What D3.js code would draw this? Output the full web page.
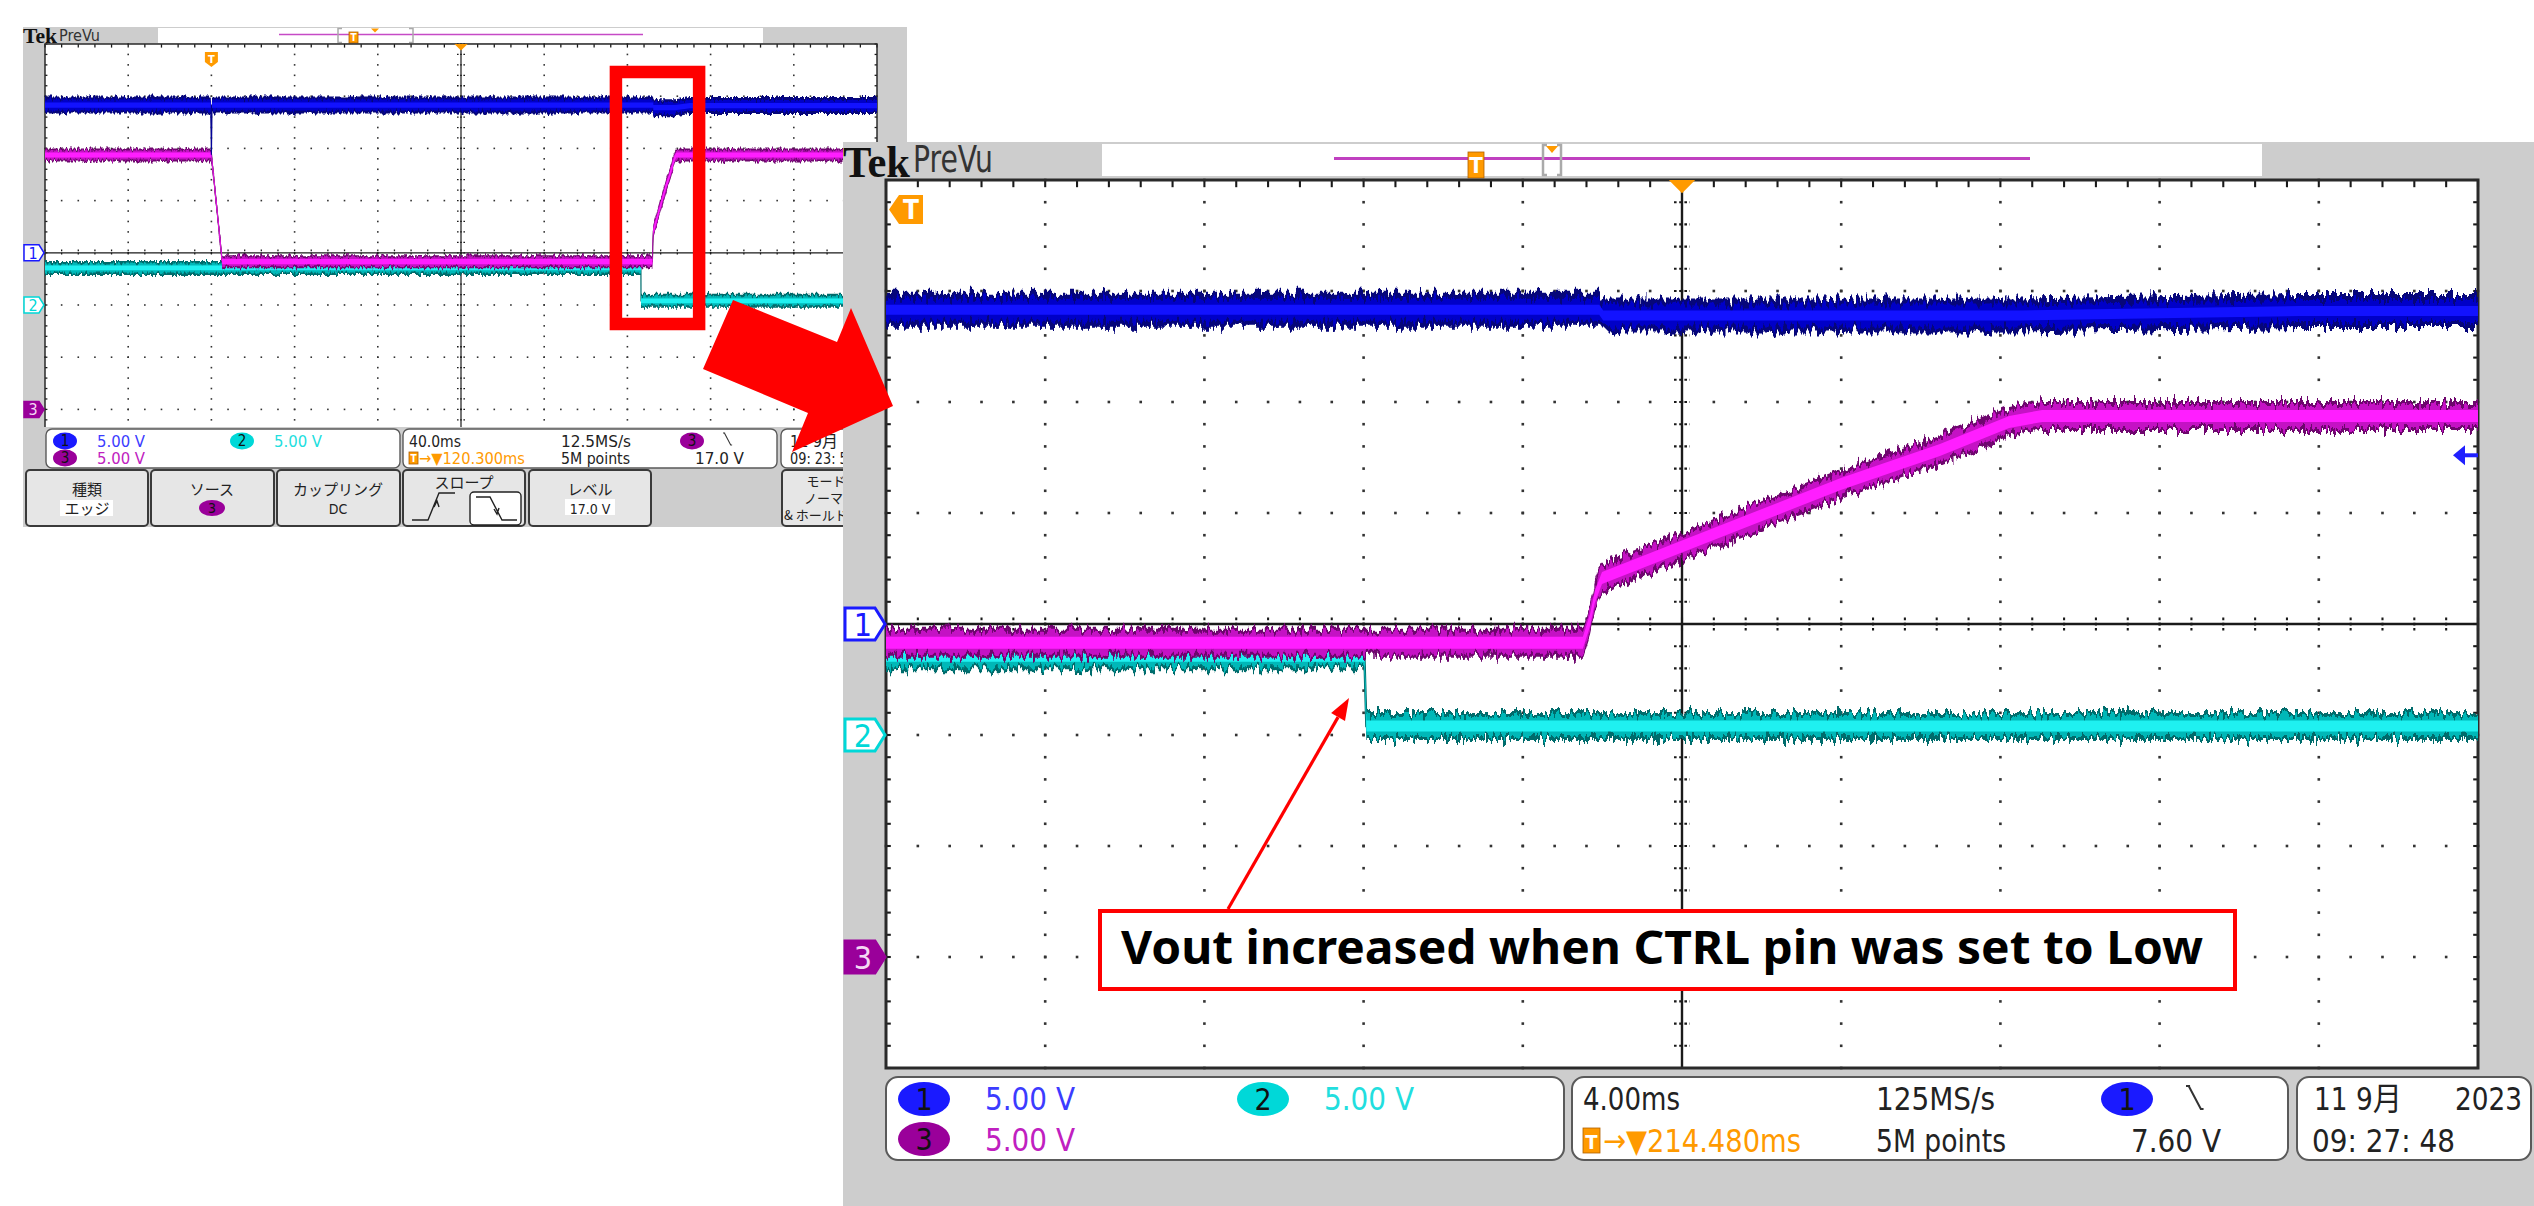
<!DOCTYPE html>
<html>
<head>
<meta charset="utf-8">
<title>Vout increased when CTRL pin was set to Low</title>
<script src="https://cdn.jsdelivr.net/npm/d3@7"></script>
<style>
  html, body { margin: 0; padding: 0; background: #fff; overflow: hidden; }
  svg { display: block; }
</style>
</head>
<body>
<div id="chart"></div>
<script>
// ---- data: time in ms from the trigger, volts ----
var ch1Points = [[-80, 14.15], [-0.3, 14.15], [0, 9.4], [0.3, 14.15], [212.4, 14.15], [212.5, 13.9], [223.0, 13.9], [230.0, 14.1], [320, 14.1]];
var ch2Points = [[-80, 3.55], [206.5, 3.55], [206.55, 0.4], [320, 0.4]];
var ch3Points = [[-80, 24.37], [0, 24.37], [5.2, 14.15], [211.99, 14.15], [212.17, 15.18], [212.29, 16.22], [212.47, 17.07],
                 [214.51, 18.51], [218.47, 21.31], [220.96, 22.84], [222.70, 24.10], [223.53, 24.37], [320, 24.37]];
var channelGround = [4, 5, 7];      // ground marker, divisions from the top
var voltsPerDiv = [5, 5, 5];
var wideWindow = [-80, 320];        // 40.0 ms/div
var zoomWindow = [194.48, 234.48];  // 4.00 ms/div
var triggerLevel = 7.60;            // ch1, zoomed capture

var voltLabels = ['5.00 V', '5.00 V', '5.00 V'];
var wideTiming = ['40.0ms', '→▼120.300ms', '12.5MS/s', '5M points', '17.0 V'];
var zoomTiming = ['4.00ms', '→▼214.480ms', '125MS/s', '5M points', '7.60 V'];
var wideDate = ['11 9月', '09: 23: 51'];
var zoomDate = ['11 9月', '2023', '09: 27: 48'];
var menuTitles = ['種類', 'ソース', 'カップリング', 'スロープ', 'レベル', 'モード'];
var menuValues = ['エッジ', '3', 'DC', '', '17.0 V', 'ノーマル'];
var note = 'Vout increased when CTRL pin was set to Low';

// ---- look ----
var W = 2534, H = 1206;
var NARROW = "'Liberation Sans Narrow', 'DejaVu Sans Condensed', 'Noto Sans CJK JP', sans-serif";
var JP = "'Noto Sans CJK JP', sans-serif";
var ORANGE = '#ff9a00', GRAY = '#cdcdcd';
var traceColors = [
    { dark: '#06067a', mid: '#0000c8', bright: '#1212ff', text: '#3c3cff', marker: '#1a1aff' },
    { dark: '#006c6c', mid: '#00b8b8', bright: '#1ff0f0', text: '#22dede', marker: '#00d8d8' },
    { dark: '#6e066e', mid: '#c412c4', bright: '#ff1eff', text: '#c020c0', marker: '#9a009a' }
];

d3.selection.prototype.attrs = function( o ){
    for ( var k in o ) this.attr( k, o[ k ] );
    return this;
};

var svg = d3.select( '#chart' ).append( 'svg' ).attrs( { width: W, height: H } );
var defs = svg.append( 'defs' );
svg.append( 'rect' ).attrs( { width: W, height: H, fill: '#fff' } );

function noiseFilter( id, freq, scale ){
    var f = defs.append( 'filter' ).attrs( {
        id: id, filterUnits: 'userSpaceOnUse', x: 0, y: 0, width: W, height: H,
        'color-interpolation-filters': 'sRGB'
    } );
    f.append( 'feTurbulence' ).attrs( { type: 'fractalNoise', baseFrequency: freq, numOctaves: 2, seed: 7, result: 'n' } );
    f.append( 'feColorMatrix' ).attrs( { in: 'n', type: 'matrix',
        values: '0 0 0 0 0.5  0 1 0 0 0  0 0 1 0 0  0 0 0 0 1', result: 'm' } );
    f.append( 'feDisplacementMap' ).attrs( { in: 'SourceGraphic', in2: 'm', scale: scale,
        xChannelSelector: 'R', yChannelSelector: 'G' } );
}
noiseFilter( 'noiseBig', '0.3 0.05', 20 );
noiseFilter( 'noiseSmall', '0.5 0.1', 8 );

function label( g, str, x, y, o ){
    var t = g.append( 'text' ).attrs( {
        x: x, y: y,
        'font-family': o.family || NARROW,
        'font-size': o.size,
        fill: o.fill || '#222'
    } ).text( str );
    if ( o.w ) t.attrs( { textLength: o.w, lengthAdjust: 'spacingAndGlyphs' } );
    if ( o.anchor ) t.attr( 'text-anchor', o.anchor );
    if ( o.weight ) t.attr( 'font-weight', o.weight );
    return t;
}

// ---- one scope screen ----
function drawScope( g, s ){
    var gx = d3.scaleLinear().domain( [ 0, 10 ] ).range( [ s.left, s.left + 10 * s.dw ] );
    var gy = d3.scaleLinear().domain( [ 0, 8 ] ).range( [ s.top, s.top + 8 * s.dh ] );
    var x = d3.scaleLinear().domain( s.window ).range( gx.range() );
    var ys = channelGround.map( function( gnd, i ){
        return d3.scaleLinear().domain( [ 0, voltsPerDiv[ i ] ] ).range( [ gy( gnd ), gy( gnd - 1 ) ] );
    } );

    // graticule
    g.append( 'rect' ).attrs( { x: gx( 0 ), y: gy( 0 ), width: gx( 10 ) - gx( 0 ), height: gy( 8 ) - gy( 0 ), fill: '#fff' } );
    var grid = g.append( 'g' ).attr( 'fill', '#333' );
    var d = s.dot;
    d3.range( 1, 10 ).filter( i => i !== 5 ).forEach( function( i ){
        d3.range( 0, 41 ).forEach( function( k ){
            grid.append( 'rect' ).attrs( { x: gx( i ) - d / 2, y: gy( k / 5 ) - d / 2, width: d, height: d } );
        } );
    } );
    d3.range( 1, 8 ).filter( j => j !== 4 ).forEach( function( j ){
        d3.range( 0, 51 ).forEach( function( k ){
            grid.append( 'rect' ).attrs( { x: gx( k / 5 ) - d / 2, y: gy( j ) - d / 2, width: d, height: d } );
        } );
    } );
    var lines = g.append( 'g' ).attrs( { stroke: '#1a1a1a', fill: 'none' } );
    lines.append( 'line' ).attrs( { x1: gx( 5 ), x2: gx( 5 ), y1: gy( 0 ), y2: gy( 8 ), 'stroke-width': s.axisW } );
    lines.append( 'line' ).attrs( { x1: gx( 0 ), x2: gx( 10 ), y1: gy( 4 ), y2: gy( 4 ), 'stroke-width': s.axisW } );
    d3.range( 0, 41 ).forEach( function( k ){
        lines.append( 'line' ).attrs( { x1: gx( 5 ) - s.tick, x2: gx( 5 ) + s.tick, y1: gy( k / 5 ), y2: gy( k / 5 ),
            'stroke-width': d * 0.8, 'stroke-dasharray': d + ',' + d } );
        lines.append( 'line' ).attrs( { x1: gx( 0 ), x2: gx( 0 ) + s.tick * 0.6, y1: gy( k / 5 ), y2: gy( k / 5 ), 'stroke-width': d * 0.8 } );
        lines.append( 'line' ).attrs( { x1: gx( 10 ), x2: gx( 10 ) - s.tick * 0.6, y1: gy( k / 5 ), y2: gy( k / 5 ), 'stroke-width': d * 0.8 } );
    } );
    d3.range( 0, 51 ).forEach( function( k ){
        lines.append( 'line' ).attrs( { x1: gx( k / 5 ), x2: gx( k / 5 ), y1: gy( 4 ) - s.tick * 0.8, y2: gy( 4 ) + s.tick * 0.8,
            'stroke-width': d * 0.8, 'stroke-dasharray': d + ',' + d } );
        lines.append( 'line' ).attrs( { x1: gx( k / 5 ), x2: gx( k / 5 ), y1: gy( 0 ), y2: gy( 0 ) + s.tick * 0.9, 'stroke-width': d * 0.8 } );
    } );
    g.append( 'rect' ).attrs( { x: gx( 0 ), y: gy( 0 ), width: gx( 10 ) - gx( 0 ), height: gy( 8 ) - gy( 0 ),
        fill: 'none', stroke: '#2a2a2a', 'stroke-width': s.borderW } );

    // traces: thin line underneath (shows the fast edges), noisy band on top
    defs.append( 'clipPath' ).attr( 'id', s.clip ).append( 'rect' ).attrs( {
        x: gx( 0 ), y: gy( 0 ), width: gx( 10 ) - gx( 0 ), height: s.visibleBottom - gy( 0 ) } );
    var traces = g.append( 'g' ).attr( 'clip-path', 'url(#' + s.clip + ')' );
    var data = [ ch1Points, ch2Points, ch3Points ];
    [ 1, 2, 0 ].forEach( function( ci ){
        var y = ys[ ci ], c = traceColors[ ci ];
        function band( h ){
            return d3.area().x( p => x( p[ 0 ] ) ).y0( p => y( p[ 1 ] ) + h ).y1( p => y( p[ 1 ] ) - h )( data[ ci ] );
        }
        traces.append( 'path' ).attrs( {
            d: d3.line().x( p => x( p[ 0 ] ) ).y( p => y( p[ 1 ] ) )( data[ ci ] ),
            fill: 'none', stroke: c.dark, 'stroke-width': s.borderW * 0.8
        } );
        traces.append( 'path' ).attrs( { d: band( s.outer[ ci ] ), fill: c.dark, filter: 'url(#' + s.noise + ')' } );
        traces.append( 'path' ).attrs( { d: band( s.mid[ ci ] ), fill: c.mid, filter: 'url(#' + s.noise + ')' } );
        traces.append( 'path' ).attrs( { d: band( s.inner[ ci ] ), fill: c.bright } );
    } );

    // channel ground markers
    channelGround.forEach( function( gnd, i ){
        var r = gx( 0 ) - 1, cy = ys[ i ]( 0 ), w = s.mark[ 0 ], h = s.mark[ 1 ];
        var filled = i === 2;
        g.append( 'path' ).attrs( {
            d: 'M' + ( r - w ) + ',' + ( cy - h / 2 ) + 'H' + ( r - w * 0.25 ) + 'L' + r + ',' + cy +
               'L' + ( r - w * 0.25 ) + ',' + ( cy + h / 2 ) + 'H' + ( r - w ) + 'Z',
            fill: filled ? traceColors[ i ].marker : '#fff',
            stroke: traceColors[ i ].marker, 'stroke-width': s.borderW
        } );
        label( g, String( i + 1 ), r - w * 0.55, cy + h * 0.36, {
            size: h * 1.0, anchor: 'middle', fill: filled ? '#f4d8f4' : traceColors[ i ].marker } );
    } );

    // centre (delay) marker
    var cw = s.mark[ 0 ] * 0.33;
    g.append( 'path' ).attrs( {
        d: 'M' + ( gx( 5 ) - cw ) + ',' + gy( 0 ) + 'H' + ( gx( 5 ) + cw ) + 'L' + gx( 5 ) + ',' + ( gy( 0 ) + cw ) + 'Z',
        fill: ORANGE } );

    return { x: x, ys: ys, gx: gx, gy: gy };
}

function readoutBox( g, x0, y0, x1, y1, r ){
    g.append( 'rect' ).attrs( { x: x0, y: y0, width: x1 - x0, height: y1 - y0, rx: r, ry: r,
        fill: '#fff', stroke: '#5a5a5a', 'stroke-width': r > 8 ? 2 : 1.4 } );
}

function chanBadge( g, cx, cy, rx, ry, i, size ){
    g.append( 'ellipse' ).attrs( { cx: cx, cy: cy, rx: rx, ry: ry, fill: traceColors[ i ].marker } );
    label( g, String( i + 1 ), cx, cy + size * 0.36, { size: size, anchor: 'middle', fill: '#111' } );
}

function triggerIcon( g, x, y, w, h, size ){
    g.append( 'rect' ).attrs( { x: x, y: y, width: w, height: h, fill: ORANGE, stroke: '#b06000', 'stroke-width': 0.8 } );
    label( g, 'T', x + w / 2, y + h * 0.82, { size: size, anchor: 'middle', fill: '#fff', weight: 'bold' } );
}

function slopeGlyph( g, x, y, s ){
    g.append( 'path' ).attrs( {
        d: 'M' + x + ',' + y + 'h' + ( 3 * s ) + 'M' + ( x + 2 * s ) + ',' + y + 'l' + ( 9 * s ) + ',' + ( 17 * s ) + 'h' + ( 2 * s ),
        fill: 'none', stroke: '#333', 'stroke-width': s * 1.5 } );
}

// =============== wide capture (top left) ===============
var small = svg.append( 'g' );
small.append( 'rect' ).attrs( { x: 23, y: 27, width: 884, height: 500, fill: GRAY } );
label( small, 'Tek', 23, 43, { size: 21, family: "'Liberation Serif', serif", weight: 'bold', w: 34, fill: '#111' } );
label( small, 'PreVu', 59, 41, { size: 16, w: 41, fill: '#333' } );
small.append( 'rect' ).attrs( { x: 158, y: 28, width: 605, height: 15, fill: '#fff' } );
small.append( 'line' ).attrs( { x1: 279, x2: 643, y1: 34.5, y2: 34.5, stroke: '#c64ac6', 'stroke-width': 1.6 } );
small.append( 'path' ).attrs( { d: 'M342,28.5h-4v14h4M409,28.5h4v14h-4', fill: 'none', stroke: '#aaa', 'stroke-width': 1.5 } );
triggerIcon( small, 349, 32, 9, 11, 10 );
small.append( 'path' ).attrs( { d: 'M371,28.5h8l-4,4z', fill: ORANGE } );

var smallScope = {
    left: 45, top: 44, dw: 83.2, dh: 52.2, visibleBottom: 429, window: wideWindow,
    dot: 1.6, tick: 4, axisW: 1.2, borderW: 1.5, mark: [ 20, 16 ],
    outer: [ 8.5, 7, 6.5 ], mid: [ 5.5, 4.5, 4.5 ], inner: [ 2.6, 2.4, 2.6 ],
    noise: 'noiseSmall', clip: 'clipSmall'
};
var sm = drawScope( small, smallScope );

// trigger position marker (pointing down)
var tx = sm.x( 0 );
small.append( 'path' ).attrs( { d: 'M' + ( tx - 6.5 ) + ',52h13v10l-6.5,5l-6.5,-5z', fill: ORANGE } );
label( small, 'T', tx, 63, { size: 11, anchor: 'middle', fill: '#fff', weight: 'bold' } );

// readout strip
small.append( 'rect' ).attrs( { x: 23, y: 427, width: 884, height: 100, fill: GRAY } );
readoutBox( small, 46, 429, 400, 468, 6 );
readoutBox( small, 403, 429, 777, 468, 6 );
readoutBox( small, 781, 429, 930, 468, 6 );
chanBadge( small, 65, 441, 12, 8.5, 0, 15 );
chanBadge( small, 242, 441, 12, 8.5, 1, 15 );
chanBadge( small, 65, 458, 12, 8.5, 2, 15 );
label( small, voltLabels[ 0 ], 97, 447, { size: 16, w: 48, fill: traceColors[ 0 ].text } );
label( small, voltLabels[ 1 ], 274, 447, { size: 16, w: 48, fill: traceColors[ 1 ].text } );
label( small, voltLabels[ 2 ], 97, 464, { size: 16, w: 48, fill: traceColors[ 2 ].text } );
label( small, wideTiming[ 0 ], 409, 447, { size: 16, w: 52 } );
triggerIcon( small, 409, 452, 9, 12, 10 );
label( small, wideTiming[ 1 ], 419, 464, { size: 16, w: 106, fill: ORANGE } );
label( small, wideTiming[ 2 ], 561, 447, { size: 16, w: 70 } );
label( small, wideTiming[ 3 ], 561, 464, { size: 16, w: 69 } );
chanBadge( small, 692, 441, 12, 8.5, 2, 15 );
slopeGlyph( small, 723, 433, 0.7 );
label( small, wideTiming[ 4 ], 695, 464, { size: 16, w: 49 } );
label( small, wideDate[ 0 ], 790, 447, { size: 16, w: 48 } );
label( small, wideDate[ 1 ], 790, 464, { size: 16, w: 66 } );

// menu buttons
var buttonX = [ [ 26, 148 ], [ 151, 274 ], [ 277, 400 ], [ 403, 525 ], [ 529, 651 ], [ 782, 930 ] ];
buttonX.forEach( function( b, i ){
    small.append( 'rect' ).attrs( { x: b[ 0 ], y: 470, width: b[ 1 ] - b[ 0 ], height: 56, rx: 4, ry: 4,
        fill: '#e6e6e6', stroke: '#3a3a3a', 'stroke-width': 2 } );
} );
label( small, menuTitles[ 0 ], 87, 495, { size: 15, family: JP, anchor: 'middle' } );
small.append( 'rect' ).attrs( { x: 60, y: 500, width: 53, height: 16, fill: '#fff' } );
label( small, menuValues[ 0 ], 87, 514, { size: 15, family: JP, anchor: 'middle' } );
label( small, menuTitles[ 1 ], 212, 495, { size: 15, family: JP, anchor: 'middle' } );
chanBadge( small, 212, 508, 13, 8, 2, 14 );
label( small, menuTitles[ 2 ], 338, 495, { size: 15, family: JP, anchor: 'middle' } );
label( small, menuValues[ 2 ], 338, 514, { size: 14, anchor: 'middle' } );
label( small, menuTitles[ 3 ], 464, 488, { size: 15, family: JP, anchor: 'middle' } );
small.append( 'path' ).attrs( { d: 'M412,520h16l11,-27h16M434,507l3,-6l2,6', fill: 'none', stroke: '#222', 'stroke-width': 1.4 } );
small.append( 'rect' ).attrs( { x: 470, y: 492, width: 51, height: 33, rx: 4, fill: '#fff', stroke: '#222', 'stroke-width': 1.4 } );
small.append( 'path' ).attrs( { d: 'M476,497h14l12,23h15M494,509l3,5l2,-6', fill: 'none', stroke: '#222', 'stroke-width': 1.4 } );
label( small, menuTitles[ 4 ], 590, 495, { size: 15, family: JP, anchor: 'middle' } );
small.append( 'rect' ).attrs( { x: 565, y: 499, width: 50, height: 16, fill: '#fff' } );
label( small, menuValues[ 4 ], 590, 514, { size: 14, anchor: 'middle' } );
label( small, menuTitles[ 5 ], 826, 486, { size: 13, family: JP, anchor: 'middle' } );
label( small, menuValues[ 5 ], 830, 503, { size: 13, family: JP, anchor: 'middle' } );
label( small, '& ホールドオフ', 784, 520, { size: 13, family: JP } );

// highlight of the zoomed window
small.append( 'rect' ).attrs( { x: sm.x( zoomWindow[ 0 ] ), y: 72, width: sm.x( zoomWindow[ 1 ] ) - sm.x( zoomWindow[ 0 ] ), height: 252,
    fill: 'none', stroke: '#ff0000', 'stroke-width': 12.5 } );

// =============== zoomed capture (right) ===============
var big = svg.append( 'g' );
big.append( 'rect' ).attrs( { x: 843, y: 142, width: W - 843, height: H - 142, fill: GRAY } );
label( big, 'Tek', 843, 177, { size: 44, family: "'Liberation Serif', serif", weight: 'bold', w: 67, fill: '#111' } );
label( big, 'PreVu', 913, 172, { size: 37, w: 80, fill: '#333' } );
big.append( 'rect' ).attrs( { x: 1102, y: 144, width: 1160, height: 32, fill: '#fff' } );
big.append( 'line' ).attrs( { x1: 1334, x2: 2030, y1: 158.5, y2: 158.5, stroke: '#c040c0', 'stroke-width': 3 } );
big.append( 'path' ).attrs( { d: 'M1547,145h-4v30h4M1557,145h4v30h-4', fill: 'none', stroke: '#aaa', 'stroke-width': 2.5 } );
triggerIcon( big, 1468, 152, 16, 26, 22 );
big.append( 'path' ).attrs( { d: 'M1546,146h12l-6,7z', fill: ORANGE } );

var bigScope = {
    left: 886, top: 180, dw: 159.2, dh: 111, visibleBottom: 1068, window: zoomWindow,
    dot: 2.6, tick: 8, axisW: 2.4, borderW: 3, mark: [ 40, 32 ],
    outer: [ 17, 14, 15 ], mid: [ 11, 10, 11 ], inner: [ 5, 5.5, 6 ],
    noise: 'noiseBig', clip: 'clipBig'
};
var bg = drawScope( big, bigScope );

// trigger is before the window: marker points left
big.append( 'path' ).attrs( { d: 'M889,209.5L899,195H923V224H899Z', fill: ORANGE } );
label( big, 'T', 911, 219, { size: 26, anchor: 'middle', fill: '#fff', weight: 'bold' } );

// trigger level (ch1) at the right edge
var ly = bg.ys[ 0 ]( triggerLevel ), lx = bg.gx( 10 );
big.append( 'path' ).attrs( { d: 'M' + ( lx - 25 ) + ',' + ly + 'l12,-10v20z', fill: '#2020ff' } );
big.append( 'line' ).attrs( { x1: lx - 15, x2: lx, y1: ly, y2: ly, stroke: '#2020ff', 'stroke-width': 4 } );

// readout
readoutBox( big, 886, 1077, 1564, 1160, 12 );
readoutBox( big, 1572, 1077, 2288, 1160, 12 );
readoutBox( big, 2297, 1077, 2531, 1160, 12 );
chanBadge( big, 924, 1099, 26, 17, 0, 30 );
chanBadge( big, 1263, 1099, 26, 17, 1, 30 );
chanBadge( big, 924, 1139, 26, 17, 2, 30 );
label( big, voltLabels[ 0 ], 985, 1110, { size: 32, w: 90, fill: traceColors[ 0 ].text } );
label( big, voltLabels[ 1 ], 1324, 1110, { size: 32, w: 90, fill: traceColors[ 1 ].text } );
label( big, voltLabels[ 2 ], 985, 1151, { size: 32, w: 90, fill: traceColors[ 2 ].text } );
label( big, zoomTiming[ 0 ], 1583, 1110, { size: 32, w: 97 } );
triggerIcon( big, 1583, 1128, 17, 25, 20 );
label( big, zoomTiming[ 1 ], 1603, 1152, { size: 32, w: 198, fill: ORANGE } );
label( big, zoomTiming[ 2 ], 1876, 1110, { size: 32, w: 119 } );
label( big, zoomTiming[ 3 ], 1876, 1152, { size: 32, w: 130 } );
chanBadge( big, 2127, 1099, 26, 17, 0, 30 );
slopeGlyph( big, 2186, 1086, 1.35 );
label( big, zoomTiming[ 4 ], 2131, 1152, { size: 32, w: 90 } );
label( big, zoomDate[ 0 ], 2314, 1110, { size: 32, w: 88 } );
label( big, zoomDate[ 1 ], 2455, 1110, { size: 32, w: 67 } );
label( big, zoomDate[ 2 ], 2312, 1152, { size: 32, w: 143 } );

// =============== annotation ===============
var ann = svg.append( 'g' );
ann.append( 'rect' ).attrs( { x: 1100, y: 911, width: 1135, height: 78, fill: '#fff', stroke: '#ff0000', 'stroke-width': 4 } );
label( ann, note, 1121, 964, { size: 46, family: "'Noto Sans', sans-serif", weight: 'bold', w: 1082, fill: '#000' } );
var a0 = [ 1228, 909 ], a1 = [ 1349, 698 ];
var ang = Math.atan2( a1[ 1 ] - a0[ 1 ], a1[ 0 ] - a0[ 0 ] );
var hl = 22, hw = 8;
var base = [ a1[ 0 ] - hl * Math.cos( ang ), a1[ 1 ] - hl * Math.sin( ang ) ];
ann.append( 'line' ).attrs( { x1: a0[ 0 ], y1: a0[ 1 ], x2: base[ 0 ], y2: base[ 1 ], stroke: '#ff0000', 'stroke-width': 3.2 } );
ann.append( 'path' ).attrs( {
    d: 'M' + a1 + 'L' + [ base[ 0 ] + hw * Math.sin( ang ), base[ 1 ] - hw * Math.cos( ang ) ] +
       'L' + [ base[ 0 ] - hw * Math.sin( ang ), base[ 1 ] + hw * Math.cos( ang ) ] + 'Z',
    fill: '#ff0000' } );

// big red arrow from the highlighted window to the zoomed view
svg.append( 'path' ).attrs( {
    d: 'M733,300L837,342L851,308L893,406L792,452L808,413L703,369Z',
    fill: '#ff0000' } );
</script>
</body>
</html>
